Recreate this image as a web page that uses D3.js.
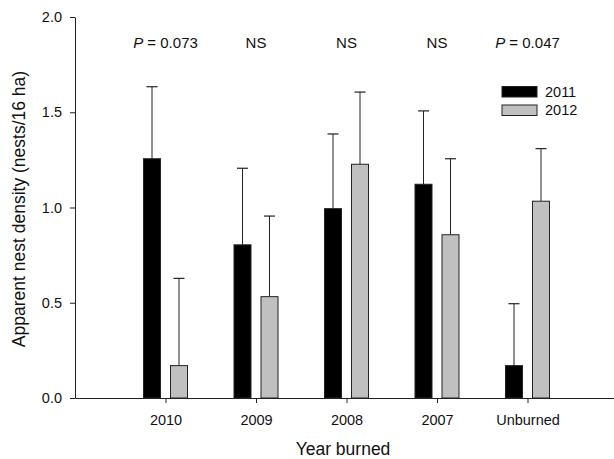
<!DOCTYPE html>
<html>
<head>
<meta charset="utf-8">
<script src="https://d3js.org/d3.v7.min.js"></script>
<style>
    body { margin: 0; background: #fff; }
    svg text { font-family: "Liberation Sans", Arial, sans-serif; fill: #111; }
    .axis path, .axis line { stroke: #222; stroke-width: 1px; }
    .axis text { font-size: 14.5px; }
</style>
</head>
<body>
<script>
    // data
    const categories = ["2010", "2009", "2008", "2007", "Unburned"];
    const seriesNames = ["2011", "2012"];
    const density2011 = [1.256, 0.804, 0.994, 1.122, 0.170];
    const error2011 = [0.378, 0.402, 0.392, 0.385, 0.325];
    const density2012 = [0.170, 0.532, 1.227, 0.857, 1.033];
    const error2012 = [0.458, 0.423, 0.379, 0.399, 0.276];
    const annotations = ["P = 0.073", "NS", "NS", "NS", "P = 0.047"];
    const yTicks = [0, 0.5, 1.0, 1.5, 2.0];

    const width = 614, height = 459;
    const colors = ["#000000", "#c0c0c0"];
    const barW = 17, offset = 13.5;

    const svg = d3.select("body").append("svg")
        .attr("width", width).attr("height", height);

    const x = d3.scaleLinear().domain([0, 6]).range([75, 618]);
    const y = d3.scaleLinear().domain([0, 2]).range([398, 17]);

    const rows = categories.map((c, i) => ({
        cat: c, i: i + 1,
        vals: [
            { s: 0, v: density2011[i], e: error2011[i] },
            { s: 1, v: density2012[i], e: error2012[i] }
        ]
    }));

    const groups = svg.selectAll("g.group")
        .data(rows)
        .join("g")
        .attr("class", "group");

    const bars = groups.selectAll("g.bar")
        .data(d => d.vals.map(v => ({ ...v, i: d.i })))
        .join("g")
        .attr("class", "bar");

    const cx = d => x(d.i) + (d.s === 0 ? -offset : offset);

    // error bars (upper only)
    bars.append("line")
        .attr("x1", cx).attr("x2", cx)
        .attr("y1", d => y(d.v)).attr("y2", d => y(d.v + d.e))
        .attr("stroke", "#222").attr("stroke-width", 1);
    bars.append("line")
        .attr("x1", d => cx(d) - 5.5).attr("x2", d => cx(d) + 5.5)
        .attr("y1", d => y(d.v + d.e)).attr("y2", d => y(d.v + d.e))
        .attr("stroke", "#222").attr("stroke-width", 1.2);

    bars.append("rect")
        .attr("x", d => cx(d) - barW / 2)
        .attr("width", barW)
        .attr("y", d => y(d.v))
        .attr("height", d => y(0) - y(d.v))
        .attr("fill", d => colors[d.s])
        .attr("stroke", "#222")
        .attr("stroke-width", 1);

    // axes
    svg.append("g")
        .attr("class", "axis")
        .attr("transform", "translate(0,398)")
        .call(d3.axisBottom(x)
            .tickValues(d3.range(1, categories.length + 1))
            .tickFormat(i => categories[i - 1])
            .tickSize(5).tickSizeOuter(0).tickPadding(12));

    svg.append("g")
        .attr("class", "axis")
        .attr("transform", "translate(75,0)")
        .call(d3.axisLeft(y)
            .tickValues(yTicks)
            .tickFormat(d3.format(".1f"))
            .tickSize(5).tickSizeOuter(0).tickPadding(8));

    // significance labels
    svg.selectAll("text.ann")
        .data(annotations)
        .join("text")
        .attr("class", "ann")
        .attr("x", (d, i) => x(i + 1))
        .attr("y", 48)
        .attr("text-anchor", "middle")
        .attr("font-size", 15)
        .each(function (d) {
            const t = d3.select(this);
            if (d.startsWith("P")) {
                t.append("tspan").attr("font-style", "italic").text("P");
                t.append("tspan").text(d.slice(1));
            } else {
                t.text(d);
            }
        });

    // legend
    const legend = svg.append("g").attr("transform", "translate(502,86.5)");
    const items = legend.selectAll("g")
        .data(seriesNames)
        .join("g")
        .attr("transform", (d, i) => `translate(0,${i * 18.5})`);
    items.append("rect")
        .attr("width", 35).attr("height", 10.5)
        .attr("fill", (d, i) => colors[i])
        .attr("stroke", "#222").attr("stroke-width", 1);
    items.append("text")
        .attr("x", 43).attr("y", 10.2)
        .attr("font-size", 14.5)
        .text(d => d);

    // axis titles
    svg.append("text")
        .attr("x", 343).attr("y", 455)
        .attr("text-anchor", "middle")
        .attr("font-size", 17.5)
        .text("Year burned");

    svg.append("text")
        .attr("transform", "translate(25,209) rotate(-90)")
        .attr("text-anchor", "middle")
        .attr("font-size", 17.5)
        .text("Apparent nest density (nests/16 ha)");
</script>
</body>
</html>
